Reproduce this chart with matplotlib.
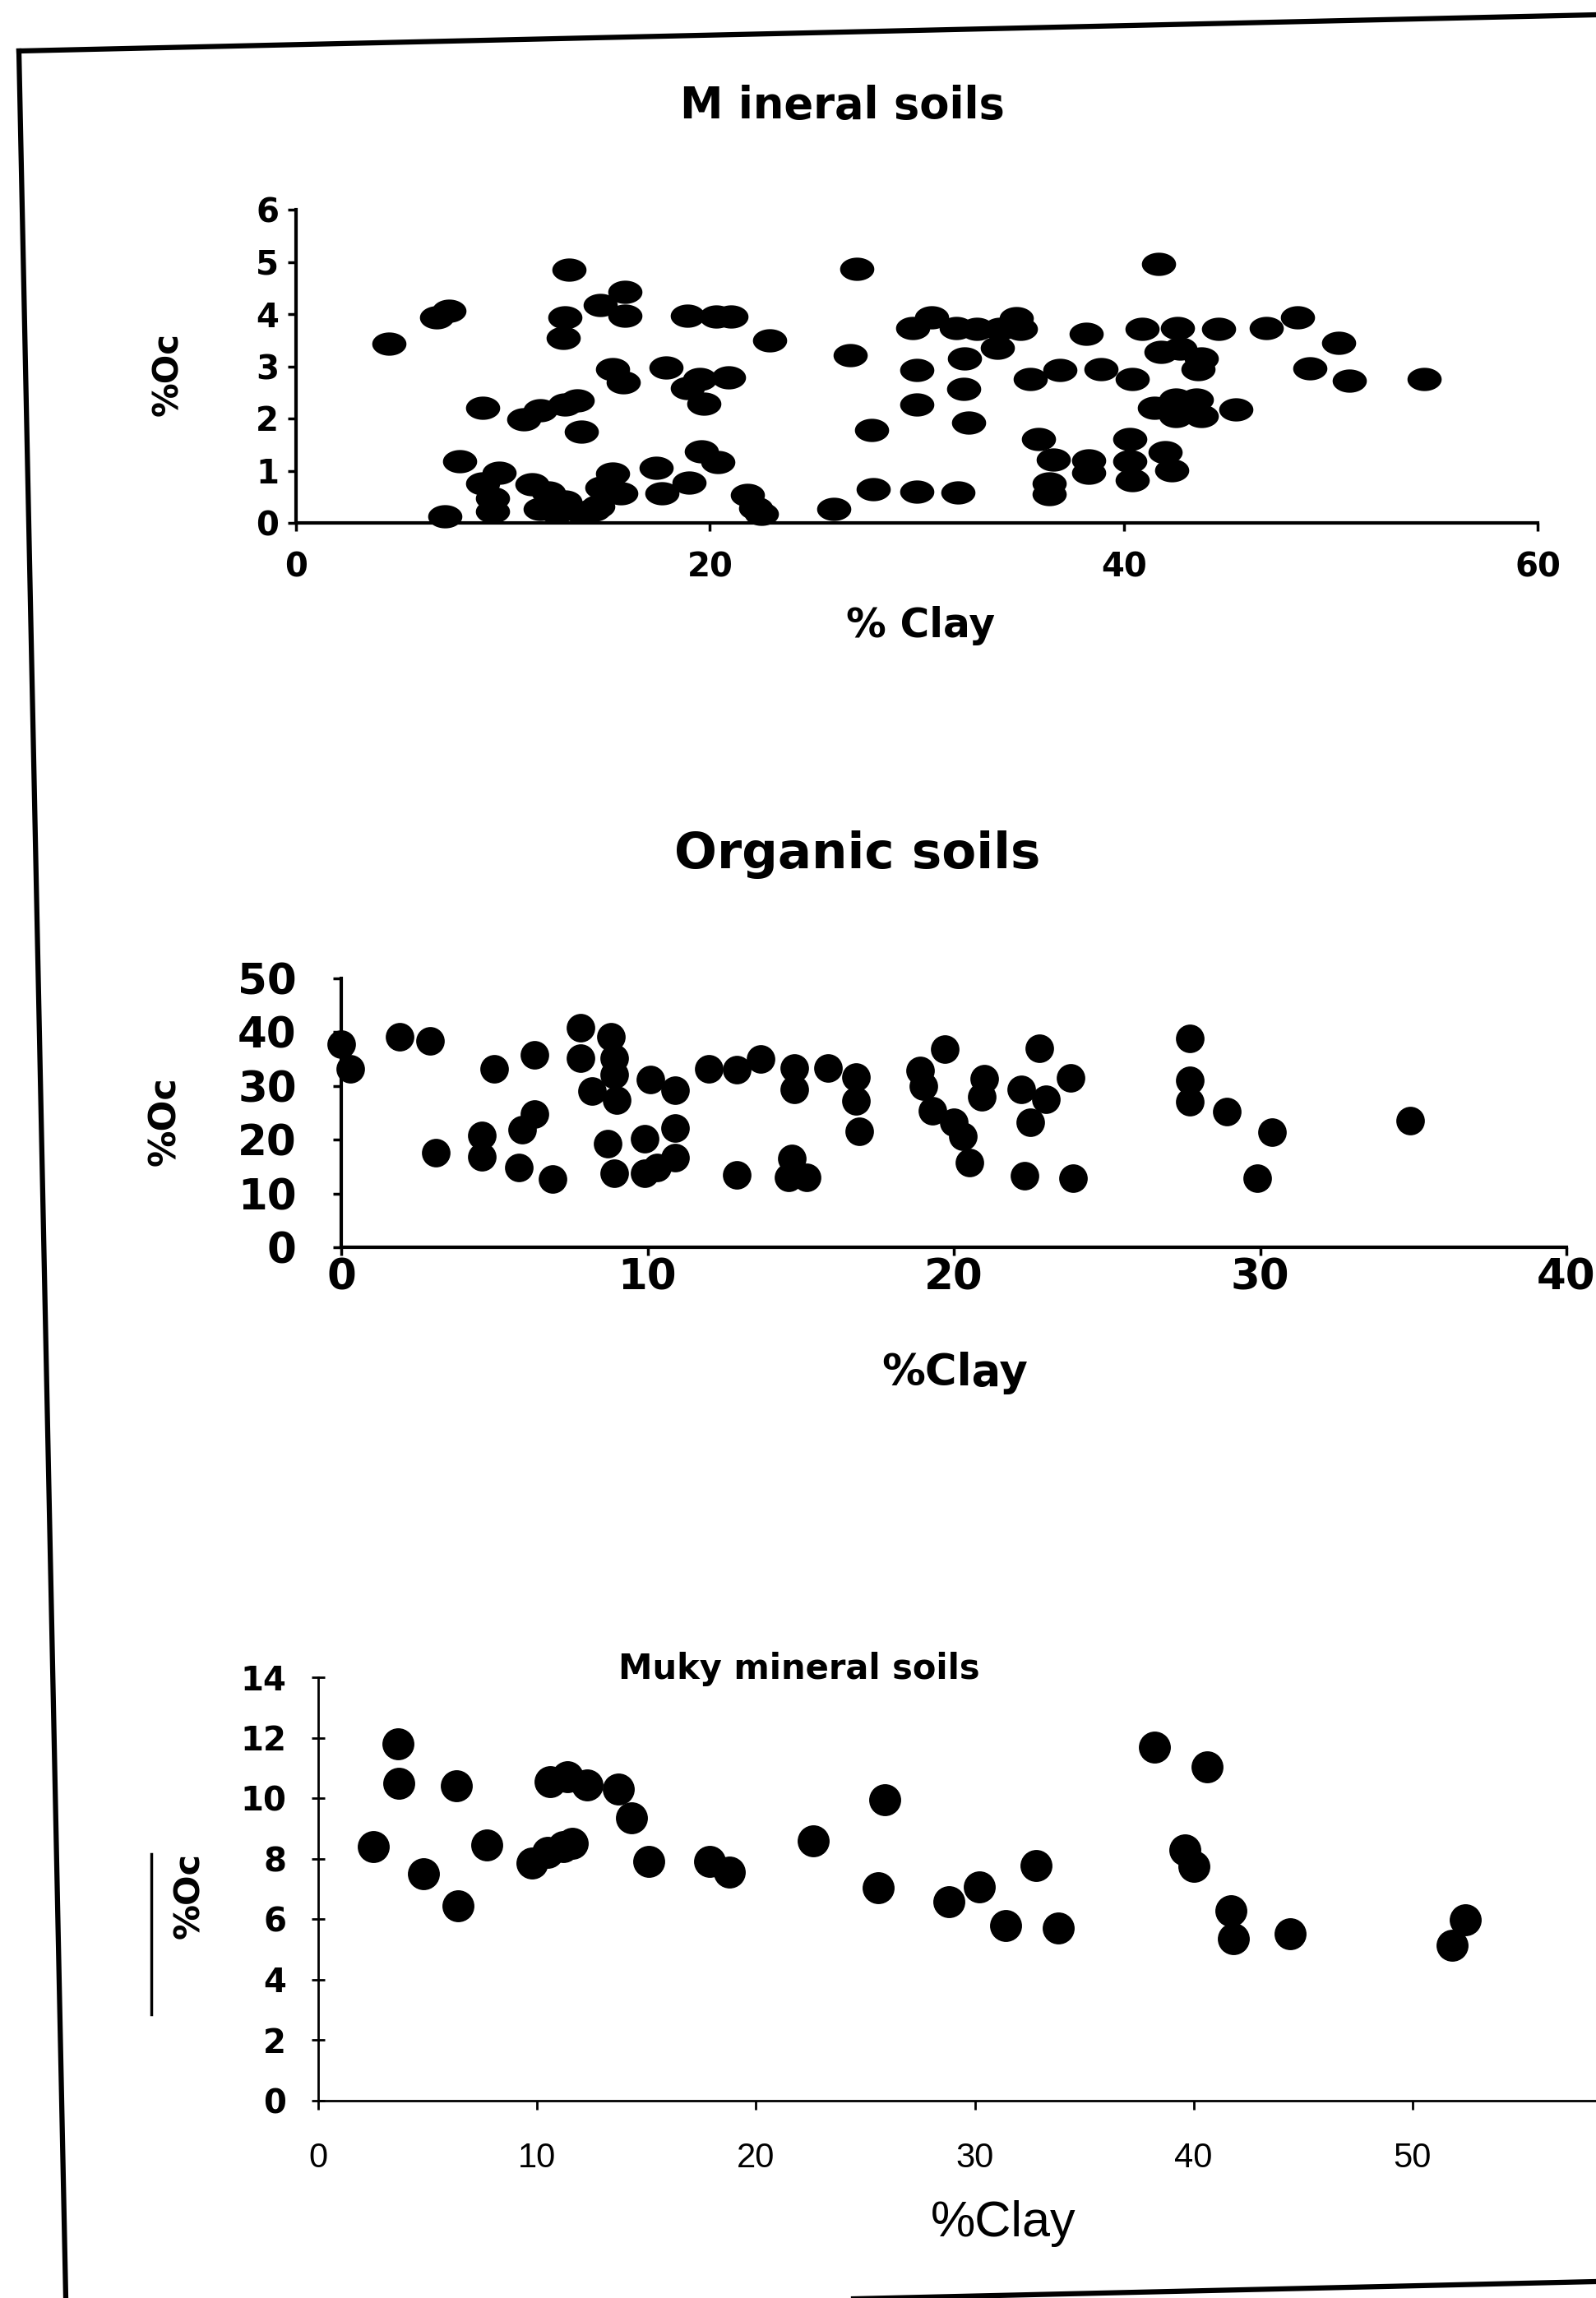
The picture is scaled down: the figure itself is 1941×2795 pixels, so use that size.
"""
%OC against %Clay for three soil groups, recreated from a scanned figure.
Run: python plot.py  ->  out.png
"""

import numpy as np
import matplotlib
matplotlib.use("Agg")
import matplotlib.pyplot as plt
from matplotlib.lines import Line2D
from matplotlib.path import Path

# ── Data ───────────────────────────────────────────────────────
mineral_clay = [4.5, 6.8, 7.4, 13.2, 13.0, 12.9, 15.9, 14.7, 15.9, 18.9, 20.3, 21.0,
                22.9, 27.1, 26.8, 15.3, 15.8, 17.9, 19.5, 18.9, 19.7, 20.9, 9.0, 11.0,
                11.8, 13.0, 13.6, 13.8, 27.8, 7.9, 19.6, 20.4, 17.4, 19.0, 17.7, 27.9,
                26.0, 21.8, 22.2, 22.5, 7.2, 9.0, 9.8, 9.5, 9.5, 11.4, 12.2, 13.0,
                11.8, 12.6, 13.8, 14.4, 15.3, 15.7, 14.8, 14.6,
                41.7, 29.8, 30.7, 31.9, 32.9, 34.0, 34.8, 35.0, 38.2, 40.9, 42.6, 44.6,
                46.9, 48.4, 50.4, 41.8, 42.7, 43.75, 43.6, 33.9, 32.3, 30.0, 35.5, 36.9,
                38.9, 40.4, 49.0, 50.9, 54.5, 32.25, 30.0, 32.5, 41.5, 42.5, 42.5, 43.5,
                43.75, 45.4, 42.1, 35.9, 36.6, 38.3, 38.3, 40.3, 40.3, 40.4, 42.0, 42.3,
                36.4, 36.4, 30.0, 32.0]
mineral_oc = [3.44, 3.94, 4.07, 4.85, 3.93, 3.54, 4.42, 4.18, 3.97, 3.97, 3.96, 3.96,
              3.50, 4.87, 3.21, 2.95, 2.69, 2.97, 2.76, 2.58, 2.29, 2.78, 2.21, 1.98,
              2.15, 2.26, 2.35, 1.75, 1.78, 1.18, 1.37, 1.16, 1.05, 0.77, 0.57, 0.65,
              0.27, 0.54, 0.29, 0.18, 0.13, 0.75, 0.96, 0.48, 0.22, 0.74, 0.58, 0.41,
              0.26, 0.20, 0.20, 0.25, 0.95, 0.57, 0.68, 0.31,
              4.96, 3.74, 3.94, 3.73, 3.72, 3.72, 3.92, 3.71, 3.62, 3.72, 3.73, 3.72,
              3.73, 3.93, 3.45, 3.27, 3.34, 3.15, 2.94, 3.35, 3.15, 2.93, 2.76, 2.93,
              2.95, 2.75, 2.96, 2.73, 2.76, 2.56, 2.27, 1.92, 2.20, 2.36, 2.04, 2.36,
              2.04, 2.17, 2.19, 1.60, 1.21, 1.20, 0.96, 1.60, 1.18, 0.82, 1.35, 1.01,
              0.76, 0.55, 0.60, 0.58]

organic_clay = [0.0, 0.3, 1.9, 2.9, 5.0, 6.3, 7.8, 7.8, 8.8, 8.9, 8.9, 8.2, 9.0, 10.1,
                10.9, 12.0, 12.9, 13.7, 14.8, 14.8, 15.9, 16.8, 16.8, 16.9, 6.3, 5.9,
                4.6, 4.6, 3.1, 5.8, 6.9, 8.7, 9.9, 10.9, 10.9, 8.9, 9.9, 10.3, 12.9,
                14.7, 14.6, 15.2,
                19.7, 18.9, 19.0, 19.3, 20.0, 20.3, 20.5, 21.0, 20.9, 22.8, 22.2, 23.0,
                22.5, 23.8, 22.3, 23.9, 27.7, 27.7, 27.7, 28.9, 30.4, 29.9, 34.9]
organic_oc = [37.8, 33.2, 39.1, 38.4, 33.2, 35.8, 40.9, 35.2, 39.2, 35.1, 32.1, 29.1,
              27.3, 31.2, 29.2, 33.2, 33.1, 35.0, 33.4, 29.4, 33.3, 31.7, 27.2, 21.5,
              24.8, 21.8, 20.8, 16.8, 17.6, 14.9, 12.7, 19.2, 20.2, 22.1, 16.6, 13.7,
              13.8, 14.8, 13.4, 16.5, 13.0, 13.0,
              36.9, 32.9, 29.9, 25.4, 23.2, 20.6, 15.8, 31.3, 28.0, 37.0, 29.3, 27.5,
              23.2, 31.5, 13.3, 12.8, 38.9, 31.1, 27.1, 25.2, 21.4, 12.9, 23.5]

muky_clay = [2.5, 3.65, 3.7, 4.8, 6.3, 6.4, 7.7, 9.75, 10.5, 11.2, 11.6, 10.6, 11.4,
             12.3, 13.7, 14.3, 15.1, 17.9, 18.8, 22.6, 25.9, 25.6,
             38.2, 40.6, 32.8, 30.2, 28.8, 31.4, 33.8, 39.6, 40.0, 41.7, 41.8, 44.4,
             52.4, 51.8]
muky_oc = [8.4, 11.8, 10.5, 7.5, 10.4, 6.45, 8.45, 7.85, 8.2, 8.4, 8.5, 10.55, 10.7,
           10.45, 10.3, 9.35, 7.9, 7.9, 7.55, 8.6, 9.95, 7.05,
           11.7, 11.05, 7.78, 7.07, 6.58, 5.78, 5.71, 8.3, 7.75, 6.28, 5.36, 5.52,
           5.97, 5.14]

mineral_xticks = [0, 20, 40, 60]
mineral_yticks = [0, 1, 2, 3, 4, 5, 6]
organic_xticks = [0, 10, 20, 30, 40]
organic_yticks = [0, 10, 20, 30, 40, 50]
muky_xticks = [0, 10, 20, 30, 40, 50]      # the 60 end falls off the scan
muky_yticks = [0, 2, 4, 6, 8, 10, 12, 14]

W, H = 1941, 2795   # output size in px (dpi 100)

# flattened dots of the top panel (the scan is stretched sideways there)
theta = np.linspace(0, 2 * np.pi, 48)
FLAT_DOT = Path(np.column_stack([np.cos(theta), 0.68 * np.sin(theta)]))


def axes_box(left, right, bottom, top):
    """pixel box (from top-left) -> figure fractions"""
    return [left / W, 1 - bottom / H, (right - left) / W, (bottom - top) / H]


def bare_axes(ax, lw):
    for side in ("top", "right"):
        ax.spines[side].set_visible(False)
    for side in ("left", "bottom"):
        ax.spines[side].set_linewidth(lw)
        ax.spines[side].set_color("black")


plt.rcParams["font.family"] = ["DejaVu Sans"]
fig = plt.figure(figsize=(W / 100, H / 100), dpi=100)
fig.patch.set_facecolor("white")

# ── Panel 1: Mineral soils ─────────────────────────────────────
ax1 = fig.add_axes(axes_box(360, 1870, 636, 255))
ax1.scatter(mineral_clay, mineral_oc, s=30 ** 2, marker=FLAT_DOT, color="black",
            linewidths=0, clip_on=False, zorder=3)
ax1.set_xlim(0, 60)
ax1.set_ylim(0, 6)
ax1.set_xticks(mineral_xticks)
ax1.set_yticks(mineral_yticks)
bare_axes(ax1, 3)
ax1.tick_params(axis="both", direction="out", length=7, width=2.5,
                labelsize=29)
ax1.tick_params(axis="x", pad=18)
ax1.tick_params(axis="y", pad=8)
for lab in ax1.get_xticklabels() + ax1.get_yticklabels():
    lab.set_fontweight("bold")
ax1.set_title("M ineral soils", fontsize=38, fontweight="bold",
              x=0.44, y=1.31, va="center")
ax1.set_xlabel("% Clay", fontsize=35, fontweight="bold", va="center")
ax1.xaxis.set_label_coords(0.503, -0.328)
ax1.set_ylabel("%Oc", fontsize=30, fontweight="bold", va="center")
ax1.yaxis.set_label_coords(-0.103, 0.475)

# ── Panel 2: Organic soils ─────────────────────────────────────
ax2 = fig.add_axes(axes_box(415, 1905, 1517, 1190))
ax2.scatter(organic_clay, organic_oc, s=25 ** 2, color="black",
            linewidths=0, clip_on=False, zorder=3)
ax2.set_xlim(0, 40)
ax2.set_ylim(0, 50)
ax2.set_xticks(organic_xticks)
ax2.set_yticks(organic_yticks)
bare_axes(ax2, 3)
ax2.tick_params(axis="both", direction="out", length=7, width=2.5,
                labelsize=37)
ax2.tick_params(axis="x", pad=2)
ax2.tick_params(axis="y", pad=32)
for lab in ax2.get_xticklabels() + ax2.get_yticklabels():
    lab.set_fontweight("bold")
ax2.set_title("Organic soils", fontsize=44, fontweight="bold",
              x=0.421, y=1.434, va="center")
ax2.set_xlabel("%Clay", fontsize=38, fontweight="bold", va="center")
ax2.xaxis.set_label_coords(0.501, -0.468)
ax2.set_ylabel("%Oc", fontsize=32, fontweight="bold", va="center")
ax2.yaxis.set_label_coords(-0.144, 0.468)

# ── Panel 3: Muky mineral soils ────────────────────────────────
ax3 = fig.add_axes(axes_box(387, 1984, 2555, 2040))
ax3.scatter(muky_clay, muky_oc, s=28 ** 2, color="black",
            linewidths=0, clip_on=False, zorder=3)
ax3.set_xlim(0, 60)
ax3.set_ylim(0, 14)
ax3.set_xticks(muky_xticks)
ax3.set_yticks(muky_yticks)
bare_axes(ax3, 2)
ax3.tick_params(axis="x", direction="out", length=8, width=2, labelsize=30, pad=28)
ax3.tick_params(axis="y", direction="inout", length=12, width=2, labelsize=29, pad=22)
for lab in ax3.get_xticklabels():
    lab.set_fontfamily("Liberation Sans")
for lab in ax3.get_yticklabels():
    lab.set_fontweight("bold")
ax3.set_title("Muky mineral soils", fontsize=30, fontweight="bold",
              x=0.366, y=1.003, va="center")
ax3.set_xlabel("%Clay", fontsize=44, family="Liberation Sans", va="center")
ax3.xaxis.set_label_coords(0.522, -0.29)
ax3.set_ylabel("%Oc", fontsize=31, fontweight="bold", va="center")
ax3.yaxis.set_label_coords(-0.098, 0.485)
# stray rule beside the label on the scan
ax3.plot([-0.127, -0.127], [0.204, 0.583], color="black", lw=2.5,
         transform=ax3.transAxes, clip_on=False)

# ── Page frame (scan is slightly rotated) ──────────────────────
frame = [((23, 62), (1941, 18)),
         ((23, 62), (80, 2795)),
         ((866, 2800), (1941, 2775))]
for (x0, y0), (x1, y1) in frame:
    fig.add_artist(Line2D([x0 / W, x1 / W], [1 - y0 / H, 1 - y1 / H],
                          color="black", lw=4.5, transform=fig.transFigure))

fig.savefig("out.png", dpi=100, facecolor="white")
plt.close(fig)
